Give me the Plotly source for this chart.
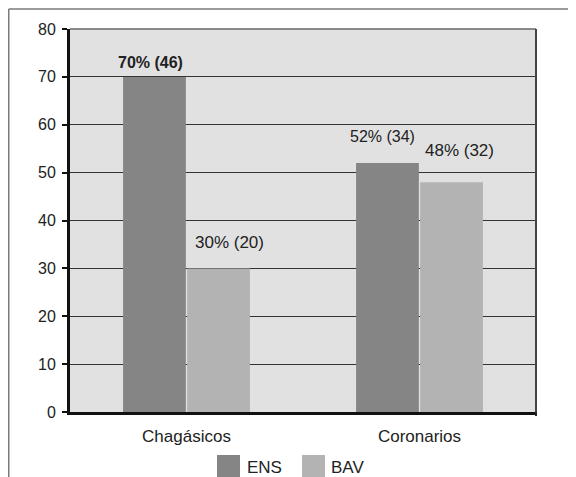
import plotly.graph_objects as go

categories = ["Chagásicos", "Coronarios"]
ens_values = [70, 52]
bav_values = [30, 48]
ens_labels = ["<b>70% (46)</b>", "52% (34)"]
bav_labels = ["30% (20)", "48% (32)"]
y_ticks = [0, 10, 20, 30, 40, 50, 60, 70, 80]

FONT = "Liberation Sans, Arial, sans-serif"
TXT = "#222222"

fig = go.Figure()
fig.add_trace(go.Bar(name="ENS", x=categories, y=ens_values,
                     marker=dict(color="#858585", line=dict(width=0)), showlegend=False))
fig.add_trace(go.Bar(name="BAV", x=categories, y=bav_values,
                     marker=dict(color="#b3b3b3", line=dict(width=0)), showlegend=False))

# value labels (offsets in pixels)
ens_shift = [(-36.5, 14), (-37.5, 27)]
bav_shift = [(42.5, 26), (39.5, 32)]
for i, c in enumerate(categories):
    fig.add_annotation(x=c, y=ens_values[i], text=ens_labels[i], showarrow=False,
                       xshift=ens_shift[i][0], yshift=ens_shift[i][1],
                       font=dict(family=FONT, size=16, color=TXT))
    fig.add_annotation(x=c, y=bav_values[i], text=bav_labels[i], showarrow=False,
                       xshift=bav_shift[i][0], yshift=bav_shift[i][1],
                       font=dict(family=FONT, size=17, color=TXT))

# page offset (body margin of 8px)
OFF = 8
W, H = 576 - OFF, 477 - OFF
L, R, T, B = 70 - OFF, 40, 29 - OFF, 65
pw, ph = W - L - R, H - T - B

def px(x):
    return (x - OFF - L) / pw

def py(y):
    return (H - B - (y - OFF)) / ph

shapes = [
    # outer frame (top and left)
    dict(type="line", xref="paper", yref="paper", x0=px(8.75), x1=px(576), y0=py(9), y1=py(9),
         line=dict(color="#7a7a7a", width=1.5)),
    dict(type="line", xref="paper", yref="paper", x0=px(8.75), x1=px(8.75), y0=py(9), y1=py(477),
         line=dict(color="#7a7a7a", width=1.5)),
    # plot area top / right borders
    dict(type="line", xref="paper", yref="paper", x0=0, x1=1, y0=1, y1=1,
         line=dict(color="#666666", width=1.5)),
    dict(type="line", xref="paper", yref="paper", x0=1, x1=1, y0=0, y1=1,
         line=dict(color="#444444", width=2)),
    # right-end x tick
    dict(type="line", xref="paper", yref="paper", x0=1, x1=1, y0=0, y1=py(416),
         line=dict(color="#222222", width=2)),
]

# manual legend
leg = [("ENS", "#858585", 217, 245), ("BAV", "#b3b3b3", 302, 329)]
for name, col, sx, tx in leg:
    shapes.append(dict(type="rect", xref="paper", yref="paper",
                       x0=px(sx), x1=px(sx + 23), y0=py(455), y1=py(478),
                       fillcolor=col, line=dict(width=0)))
    fig.add_annotation(xref="paper", yref="paper", x=px(tx), y=py(467), text=name,
                       showarrow=False, xanchor="left", yanchor="middle",
                       font=dict(family=FONT, size=17, color=TXT))

fig.update_layout(
    width=W, height=H,
    margin=dict(l=L, r=R, t=T, b=B, pad=0),
    paper_bgcolor="white", plot_bgcolor="#e1e1e1",
    barmode="group", bargap=0.45, bargroupgap=0.02,
    font=dict(family=FONT, size=15, color=TXT),
    shapes=shapes,
    showlegend=False,
)
fig.update_yaxes(range=[0, 80], tickvals=y_ticks, showgrid=True, gridcolor="#333333",
                 gridwidth=1, showline=True, linecolor="#111111", linewidth=3,
                 ticks="outside", ticklen=5, tickwidth=2, tickcolor="#111111",
                 ticklabelstandoff=3,
                 zeroline=False, tickfont=dict(family=FONT, size=16, color=TXT))
fig.update_xaxes(showline=True, linecolor="#111111", linewidth=3, ticks="",
                 showgrid=False, ticklabelstandoff=7,
                 tickfont=dict(family=FONT, size=17, color=TXT))

fig.write_html("out.html")
